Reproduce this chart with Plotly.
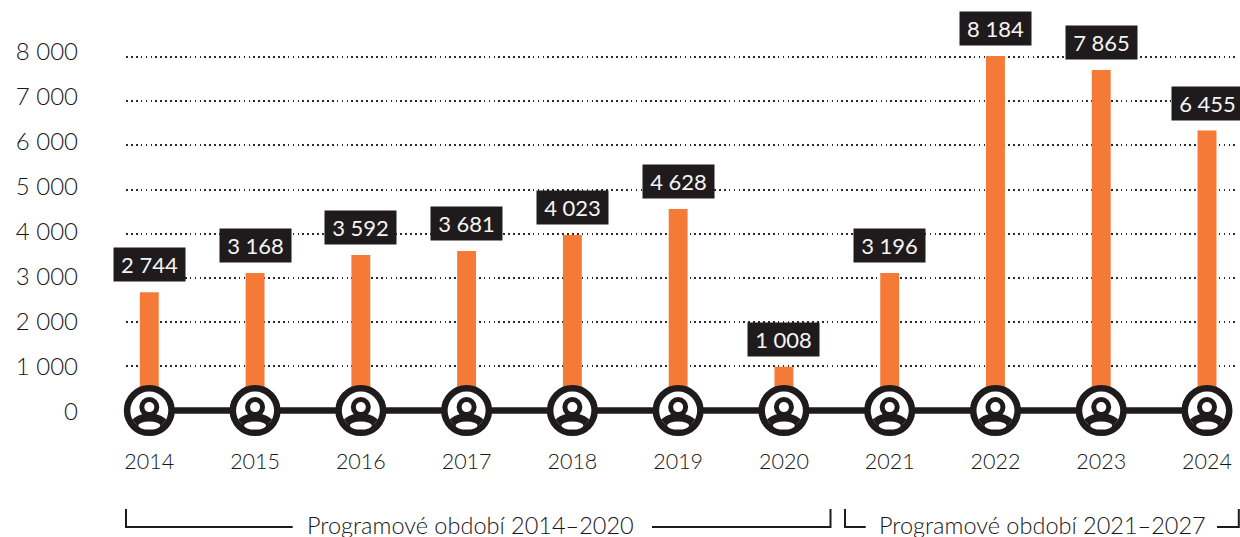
import plotly.graph_objects as go

years = [2014, 2015, 2016, 2017, 2018, 2019, 2020, 2021, 2022, 2023, 2024]
# heights of the bars as drawn in the picture
bar_heights = [2676, 3113, 3520, 3611, 3973, 4561, 993, 3113, 8023, 7706, 6335]
# values printed on the black labels
value_labels = ["2 744", "3 168", "3 592", "3 681", "4 023", "4 628", "1 008", "3 196", "8 184", "7 865", "6 455"]
y_ticks = [0, 1000, 2000, 3000, 4000, 5000, 6000, 7000, 8000]
y_tick_labels = ["0", "1 000", "2 000", "3 000", "4 000", "5 000", "6 000", "7 000", "8 000"]
period_labels = ["Programové období 2014–2020", "Programové období 2021–2027"]

W, H = 1240, 537
L, R, PB = 126, 1235, 440
FONT = "Lato"
WEIGHT = 300
INK = "#1f1b1c"
TEXT = "#181617"
ORANGE = "#f57a37"
STEP = 105.77
X0 = 149.3
PX_PER_K = 44.2
Y0 = 410.6
PX_PER_K2 = 45.1
Y02 = 412.0

xr = [2014 + (L - X0) / STEP, 2014 + (R - X0) / STEP]
yr = [-(PB - Y0) / PX_PER_K * 1000, Y0 / PX_PER_K * 1000]
yr2 = [-(PB - Y02) / PX_PER_K2 * 1000, Y02 / PX_PER_K2 * 1000]


def px(x):
    return (x - L) / (R - L)


def py(y):
    return 1 - y / PB


fig = go.Figure()
fig.add_trace(go.Bar(x=years, y=bar_heights, width=18.9 / STEP, marker=dict(color=ORANGE, line=dict(width=0)),
                     showlegend=False, hoverinfo="skip"))
fig.add_trace(go.Scatter(x=years, y=[0] * len(years), mode="lines", line=dict(color=INK, width=6.5),
                         showlegend=False, hoverinfo="skip"))
fig.add_trace(go.Scatter(x=years, y=[0] * len(years), mode="markers",
                         marker=dict(size=44.5, color="white", line=dict(color=INK, width=6.5)),
                         showlegend=False, hoverinfo="skip", cliponaxis=False))
fig.add_trace(go.Scatter(x=[years[0]], y=[0], yaxis="y2", mode="markers", marker=dict(opacity=0),
                         showlegend=False, hoverinfo="skip"))

shapes = []
for yr_i in years:
    pix = dict(xref="x", yref="y", xsizemode="pixel", ysizemode="pixel", xanchor=yr_i, yanchor=0, layer="above")
    shapes.append(dict(type="path", path="M -17,-9 Q -13,-5 -5,-3 L 5,-3 Q 13,-5 17,-9 Q 0,-34 -17,-9 Z",
                       fillcolor=INK, line=dict(width=0), **pix))
    shapes.append(dict(type="circle", x0=-10, x1=10, y0=-6.5, y1=13.5, fillcolor=INK, line=dict(width=0), **pix))
    shapes.append(dict(type="circle", x0=-5, x1=5, y0=-1.5, y1=8.5, fillcolor="white", line=dict(width=0), **pix))
    shapes.append(dict(type="circle", x0=-11, x1=11, y0=-19, y1=-11, fillcolor="white", line=dict(width=0), **pix))

# period brackets
brackets = [
    [(126, 509), (126, 527), (292.7, 527)],
    [(652, 527), (830.5, 527), (830.5, 509)],
    [(845, 509), (845, 527), (865.7, 527)],
    [(1217, 527), (1238.8, 527), (1238.8, 509)],
]
for pts in brackets:
    d = "M " + " L ".join(f"{px(a):.5f},{py(b):.5f}" for a, b in pts)
    shapes.append(dict(type="path", path=d, xref="paper", yref="paper", line=dict(color=INK, width=2)))

annotations = []
for x, h, lab in zip(years, bar_heights, value_labels):
    annotations.append(dict(x=x, y=h, xref="x", yref="y", text=lab, showarrow=False, xanchor="center",
                            yanchor="bottom", yshift=10, width=71, height=33, borderpad=0, align="center",
                            valign="middle", bgcolor=INK, font=dict(family=FONT, size=22, weight=400, color="#f4f4f4")))
for lab, x_left in zip(period_labels, [307, 879]):
    annotations.append(dict(x=px(x_left), y=py(525), xref="paper", yref="paper", text=lab, showarrow=False,
                            xanchor="left", yanchor="middle", borderpad=0, borderwidth=0,
                            font=dict(family=FONT, size=23.5, weight=WEIGHT, color=TEXT)))

fig.update_layout(
    width=W, height=H, margin=dict(l=L, r=W - R, t=0, b=H - PB, pad=0, autoexpand=False),
    paper_bgcolor="white", plot_bgcolor="white", showlegend=False,
    font=dict(family=FONT, color=TEXT),
    xaxis=dict(range=xr, tickmode="array", tickvals=years, ticktext=[str(v) for v in years], showgrid=False,
               zeroline=False, showline=False, ticks="", ticklabelstandoff=6,
               tickfont=dict(family=FONT, size=21.5, weight=WEIGHT, color=TEXT)),
    yaxis=dict(range=yr, tickmode="array", tickvals=y_ticks[1:], showticklabels=False, showgrid=True,
               gridcolor="#2b2829", gridwidth=1.7, griddash="1.7px 3.2px", zeroline=False, showline=False, ticks=""),
    yaxis2=dict(range=yr2, overlaying="y", side="left", tickmode="array", tickvals=y_ticks, ticktext=y_tick_labels,
                showgrid=False, zeroline=False, showline=False, ticks="", ticklabelstandoff=47,
                tickfont=dict(family=FONT, size=24, weight=WEIGHT, color=TEXT)),
    shapes=shapes, annotations=annotations,
)
fig.write_html("out.html", config=dict(displayModeBar=False),
               post_script="document.body.style.margin='0';document.body.style.overflow='hidden';")
